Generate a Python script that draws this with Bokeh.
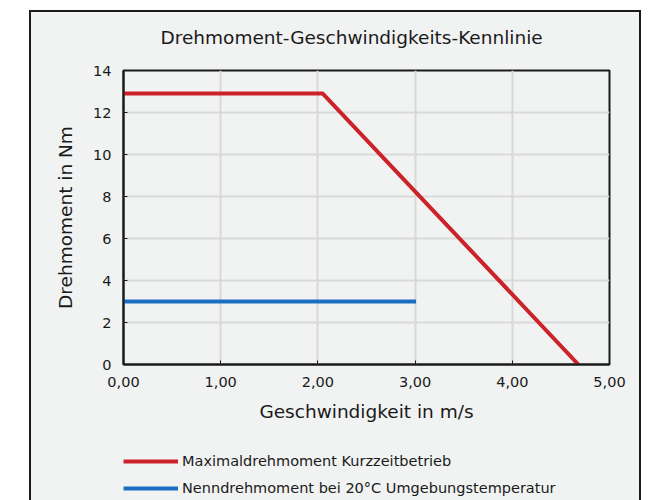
from bokeh.plotting import figure
from bokeh.models import Range1d, FixedTicker, Legend, LegendItem, Spacer, Title
from bokeh.layouts import row, column
from bokeh.embed import file_html
from bokeh.resources import INLINE

# ---- data ----
max_speed = [0.0, 2.05, 4.68]
max_torque = [12.9, 12.9, 0.0]
nom_speed = [0.0, 3.01]
nom_torque = [3.0, 3.0]
x_ticks = [0, 1, 2, 3, 4, 5]
x_tick_labels = ["0,00", "1,00", "2,00", "3,00", "4,00", "5,00"]
y_ticks = [0, 2, 4, 6, 8, 10, 12, 14]
y_tick_labels = ["0", "2", "4", "6", "8", "10", "12", "14"]
series_names = ["Maximaldrehmoment Kurzzeitbetrieb",
                "Nenndrehmoment bei 20°C Umgebungstemperatur"]
title_text = "Drehmoment-Geschwindigkeits-Kennlinie"
x_label = "Geschwindigkeit in m/s"
y_label = "Drehmoment in Nm"

FONT = "DejaVu Sans"
BG = "#f1f2f2"
RED = "#cc2229"
BLUE = "#1b6fc2"
EDGE = "2px solid #1a1a1a"

p = figure(width=612, height=428, output_backend="svg", toolbar_location=None,
           x_range=Range1d(0, 5), y_range=Range1d(0, 14),
           min_border_left=82, min_border_right=34, min_border_top=58,
           min_border_bottom=76,
           background_fill_color=BG, border_fill_color=BG)
p.styles = {"border-top": EDGE, "border-left": EDGE, "border-right": EDGE}

# small blank spacer between frame and title
p.add_layout(Title(text=" ", text_font_size="10px", standoff=10), "above")

p.title.text = title_text
p.title.text_font = FONT
p.title.text_font_size = "18.5px"
p.title.text_font_style = "normal"
p.title.text_color = "#1a1a1a"
p.title.align = "left"
p.title.offset = 37
p.title.standoff = 0

p.outline_line_color = "#1a1a1a"
p.outline_line_width = 2

for ax, ticks, labels in ((p.xaxis[0], x_ticks, x_tick_labels), (p.yaxis[0], y_ticks, y_tick_labels)):
    ax.ticker = FixedTicker(ticks=ticks)
    ax.major_label_overrides = {t: l for t, l in zip(ticks, labels)}
    ax.minor_tick_line_color = None
    ax.major_tick_in = 4
    ax.major_tick_out = 0
    ax.major_tick_line_color = "#1a1a1a"
    ax.axis_line_color = "#1a1a1a"
    ax.axis_line_width = 2
    ax.major_label_text_font = FONT
    ax.major_label_text_font_size = "14.5px"
    ax.major_label_text_color = "#1a1a1a"
    ax.axis_label_text_font = FONT
    ax.axis_label_text_font_size = "18.5px"
    ax.axis_label_text_font_style = "normal"
    ax.axis_label_text_color = "#1a1a1a"

p.xaxis.axis_label = x_label
p.yaxis.axis_label = y_label
p.xaxis.major_label_standoff = 12
p.yaxis.major_label_standoff = 12
p.xaxis.axis_label_standoff = 11
p.yaxis.axis_label_standoff = 14

p.grid.grid_line_color = "#d9d9d9"
p.grid.grid_line_width = 2

p.line(max_speed, max_torque, line_color=RED, line_width=4)
p.line(nom_speed, nom_torque, line_color=BLUE, line_width=4)

# legend panel below the chart (same series, drawn outside the visible range)
q = figure(width=612, height=62, output_backend="svg", toolbar_location=None,
           x_axis_location=None, y_axis_location=None,
           x_range=Range1d(-10, -9), y_range=Range1d(-10, -9),
           min_border_left=92, min_border_right=30, min_border_top=13,
           min_border_bottom=0,
           background_fill_color=BG, border_fill_color=BG)
q.styles = {"border-left": EDGE, "border-right": EDGE}
q.outline_line_color = None
q.grid.visible = False
q1 = q.line(max_speed, max_torque, line_color=RED, line_width=4)
q2 = q.line(nom_speed, nom_torque, line_color=BLUE, line_width=4)

legend = Legend(items=[LegendItem(label=series_names[0], renderers=[q1]),
                       LegendItem(label=series_names[1], renderers=[q2])],
                location="top_left", orientation="vertical",
                label_text_font=FONT, label_text_font_size="14.5px",
                label_text_color="#1a1a1a",
                glyph_width=55, glyph_height=20, label_standoff=4, spacing=7,
                padding=6, margin=0, border_line_color=None,
                background_fill_alpha=0)
q.add_layout(legend)

chart = column(p, q, spacing=0, styles={"background-color": BG})
layout = column(Spacer(height=10), row(Spacer(width=29), chart))
open("out.html", "w").write(file_html(layout, INLINE))
